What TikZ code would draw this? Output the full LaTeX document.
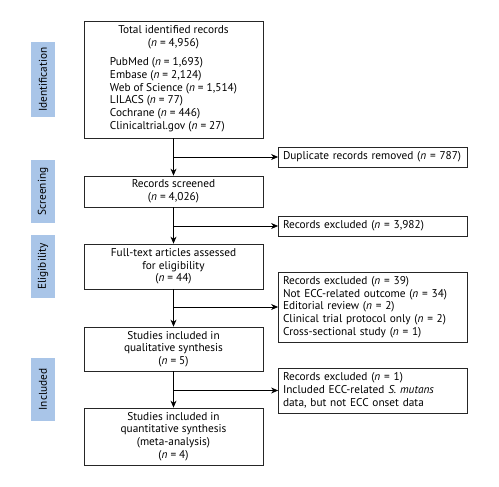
\documentclass[tikz,border=0pt]{standalone}
\usepackage{fontspec}
\setmainfont{PT Sans}
\usetikzlibrary{arrows.meta}
\definecolor{barblue}{RGB}{169,197,232}
\newcommand\fsz{\fontsize{11.3}{12.7}\selectfont}
\begin{document}
\begin{tikzpicture}[x=1pt,y=-1pt,
  box/.style={draw=black!85,line width=0.8pt,minimum width=179pt,inner sep=2pt,align=center,font=\fsz},
  side/.style={draw=black!85,line width=0.8pt,text width=180pt,inner xsep=4.5pt,inner ysep=2pt,align=left,font=\fsz},
  bar/.style={fill=barblue,rotate=90,minimum height=24pt,inner sep=0pt,font=\fsz},
  arr/.style={-{Stealth[length=7pt,width=6pt]},line width=0.8pt}]
\useasboundingbox (0,0) rectangle (499,487);

%stages
\node[bar,minimum width=75pt] (idf) at (43,79.5) {Identification};
\node[bar,minimum width=63pt] (scrn) at (43,191.5) {Screening};
\node[bar,minimum width=63pt] (elig) at (43,266.5) {Eligibility};
\node[bar,minimum width=63pt] (incl) at (43,389.5) {Included};
%fin

%main boxes
\node[box,minimum height=117pt] (tot) at (173.5,79.5) {Total identified records\\(\textit{n} = 4,956)\\[7pt]
  \begin{tabular}{@{}l@{}}
  PubMed (\textit{n} = 1,693)\\
  Embase (\textit{n} = 2,124)\\
  Web of Science (\textit{n} = 1,514)\\
  LILACS (\textit{n} = 77)\\
  Cochrane (\textit{n} = 446)\\
  Clinicaltrial.gov (\textit{n} = 27)
  \end{tabular}};
\node[box,minimum height=31pt] (scr) at (173.5,191.5) {Records screened\\(\textit{n} = 4,026)};
\node[box,minimum height=45pt] (full) at (173.5,266.5) {Full-text articles assessed\\for eligibility\\(\textit{n} = 44)};
\node[box,minimum height=44pt] (qual) at (173.5,349) {Studies included in\\qualitative synthesis\\(\textit{n} = 5)};
\node[box,minimum height=57pt] (quant) at (173.5,436.5) {Studies included in\\quantitative synthesis\\(meta-analysis)\\(\textit{n} = 4)};
%fin

%side boxes
\node[side,minimum height=20pt] (dup) at (373,157) {Duplicate records removed (\textit{n}~=~787)};
\node[side,minimum height=20pt] (exa) at (373,226) {Records excluded (\textit{n} = 3,982)};
\node[side,minimum height=70pt] (exb) at (373,307) {Records excluded (\textit{n} = 39)\\
  Not ECC-related outcome (\textit{n} = 34)\\
  Editorial review (\textit{n} = 2)\\
  Clinical trial protocol only (\textit{n} = 2)\\
  Cross-sectional study (\textit{n} = 1)};
\node[side,minimum height=45pt] (exc) at (373,390.5) {Records excluded (\textit{n} = 1)\\
  Included ECC-related \textit{S. mutans}\\
  data, but not ECC onset data};
%fin

%arrows
\draw[arr] (tot) -- (scr);
\draw[arr] (scr) -- (full);
\draw[arr] (full) -- (qual);
\draw[arr] (qual) -- (quant);
\coordinate (j1) at (tot.south |- dup.west);
\coordinate (j2) at (scr.south |- exa.west);
\coordinate (j3) at (full.south |- exb.west);
\coordinate (j4) at (qual.south |- exc.west);
\draw[arr] (j1) -- (dup);
\draw[arr] (j2) -- (exa);
\draw[arr] (j3) -- (exb);
\draw[arr] (j4) -- (exc);
%fin
\end{tikzpicture}
\end{document}
